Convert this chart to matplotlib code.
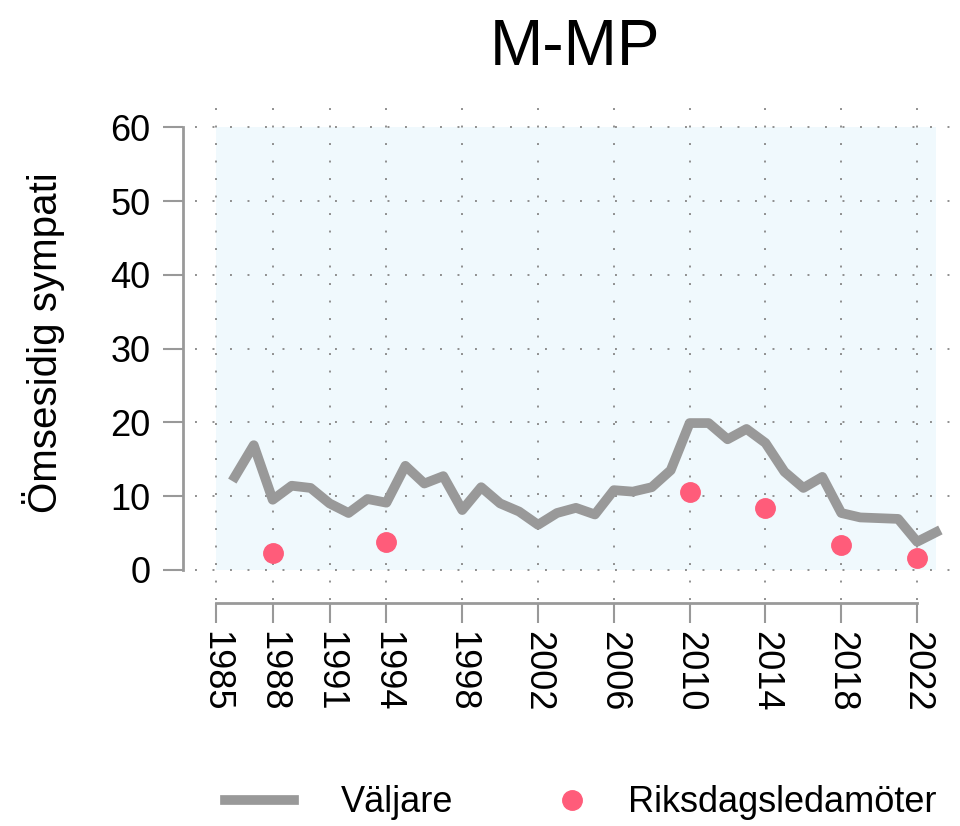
import matplotlib
matplotlib.use("Agg")
import matplotlib.pyplot as plt
from matplotlib.lines import Line2D

plt.rcParams['font.family'] = ['Liberation Sans', 'DejaVu Sans']

# Väljare (voters), one value per year
years = list(range(1986, 2024))
voters = [12.6, 16.9, 9.5, 11.4, 11.1, 9.0, 7.7, 9.6, 9.1, 14.1,
          11.7, 12.7, 8.1, 11.2, 9.0, 7.9, 6.1, 7.7, 8.4, 7.5,
          10.8, 10.6, 11.2, 13.5, 19.9, 19.9, 17.7, 19.1, 17.2, 13.3,
          11.1, 12.6, 7.7, 7.1, 7.0, 6.9, 3.8, 5.1]

# Riksdagsledamöter (MPs), election years
mp_years = [1988, 1994, 2010, 2014, 2018, 2022]
mp_values = [2.3, 3.7, 10.5, 8.4, 3.4, 1.6]

tick_years = [1985, 1988, 1991, 1994, 1998, 2002, 2006, 2010, 2014, 2018, 2022]
yticks = [0, 10, 20, 30, 40, 50, 60]

line_color = '#999999'
dot_color = '#FF5C7A'
bg_color = '#F0F9FD'

fig = plt.figure(figsize=(9.6, 8.26), dpi=100)
ax = fig.add_axes([195 / 960, 1 - 600 / 826, 760 / 960, 505 / 826])

# light blue panel behind the data
ax.fill_between([tick_years[0], years[-1]], yticks[0], yticks[-1],
                color=bg_color, lw=0, zorder=0)

ax.plot(years, voters, color=line_color, lw=7, zorder=3)
ax.plot(mp_years, mp_values, 'o', color=dot_color, ms=14, zorder=4)

ax.set_xlim(1983.9, 2024.0)
ax.set_ylim(-4.1, 64.4)
ax.set_xticks(tick_years)
ax.set_xticklabels([str(y) for y in tick_years])
ax.set_yticks(yticks)

ax.set_axisbelow(True)
ax.grid(True, color='#8F8F8F', linestyle=(0, (1, 8)), lw=1.4)

for s in ['top', 'right']:
    ax.spines[s].set_visible(False)
ax.spines['left'].set_position(('outward', 8.6))
ax.spines['left'].set_bounds(yticks[0], yticks[-1])
ax.spines['bottom'].set_position(('outward', 2.2))
ax.spines['bottom'].set_bounds(tick_years[0], tick_years[-1])
for s in ['left', 'bottom']:
    ax.spines[s].set_color(line_color)
    ax.spines[s].set_linewidth(2)

ax.tick_params(axis='both', length=14.4, width=1.5, color=line_color, labelsize=26)
ax.tick_params(axis='y', pad=9)
ax.tick_params(axis='x', pad=6, labelrotation=270)

ax.set_title('M-MP', fontsize=46, pad=21.6)
ax.set_ylabel('Ömsesidig sympati', fontsize=29)
ax.yaxis.set_label_coords(-0.171, 0.51)

leg1 = fig.legend([Line2D([], [], color=line_color, lw=7)], ['Väljare'],
                  loc='center left', bbox_to_anchor=(225 / 960, 1 - 803 / 826),
                  frameon=False, borderaxespad=0, borderpad=0, fontsize=26,
                  handlelength=1.9, handletextpad=1.3)
leg2 = fig.legend([Line2D([], [], ls='', marker='o', color=dot_color, ms=14)],
                  ['Riksdagsledamöter'],
                  loc='center left', bbox_to_anchor=(554 / 960, 1 - 803 / 826),
                  frameon=False, borderaxespad=0, borderpad=0, fontsize=26,
                  handlelength=1.0, handletextpad=1.05)

fig.savefig('out.png', dpi=100)
